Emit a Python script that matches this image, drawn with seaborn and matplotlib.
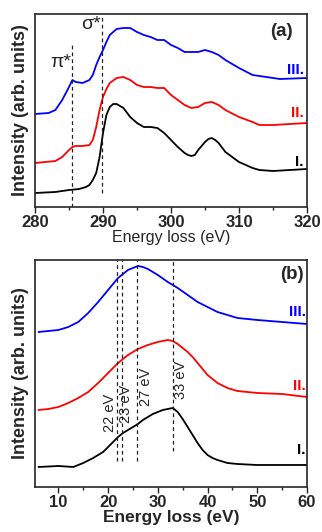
import numpy as np
import pandas as pd
import seaborn as sns
import matplotlib
matplotlib.use("Agg")
import matplotlib.pyplot as plt
from matplotlib.ticker import MultipleLocator

# ---- panel (a): C K-edge, energy loss (eV) and offset intensities ----
a_x_I = [280, 283, 285, 286.5, 287.5, 288, 288.5, 289, 289.5, 290, 290.5, 291, 291.5, 292, 292.5, 293, 294, 295, 296, 297, 298,
         299, 300, 301, 302, 302.5, 303, 303.5, 304, 305, 305.5, 306, 306.5, 307, 308, 309, 310, 311, 312, 313, 315, 320]
a_y_I = [14, 15, 17, 18, 20, 22, 27, 34, 50, 74, 92, 100, 103, 103, 101, 99, 90, 84, 80, 80, 79,
         74, 67, 60, 54, 52, 51, 52, 57, 65, 68, 69, 67, 64, 55, 50, 45, 42, 39, 37, 36, 38]

a_x_II = [280, 283, 284, 285, 285.5, 286, 287, 288, 288.5, 289, 289.5, 290, 290.5, 291, 292, 293, 294, 295,
          296, 297, 298, 299, 300, 301, 302, 303, 304, 305, 306, 307, 308, 310, 312, 313, 315, 320]
a_y_II = [44, 46, 50, 57, 60, 61, 61, 62, 67, 80, 97, 110, 118, 124, 129, 130, 127, 122,
          120, 120, 119, 119, 112, 107, 102, 99, 100, 104, 105, 102, 97, 90, 85, 82, 82, 84]

a_x_III = [280, 282, 283, 284, 285, 285.5, 286, 287, 288, 288.5, 289, 289.5, 290, 290.5, 291, 292, 293, 294, 295,
           296, 297, 298, 299, 300, 301, 302, 303, 304, 305, 306, 307, 308, 310, 312, 314, 316, 320]
a_y_III = [93, 94, 97, 107, 120, 127, 125, 124, 127, 132, 142, 150, 157, 165, 172, 178, 179, 179, 175,
           172, 170, 167, 167, 162, 159, 155, 155, 155, 157, 155, 152, 147, 139, 132, 130, 128, 129]

# ---- panel (b): low-loss region ----
b_x_I = [6, 10, 13, 15, 17, 19, 20, 21, 22, 23, 24, 25, 26, 27, 28, 29, 30, 31, 32, 33,
         34, 35, 36, 37, 38, 39, 40, 41, 42, 44, 46, 50, 60]
b_y_I = [20, 21, 20, 24, 29, 35, 40, 45, 50, 54, 57, 60, 63, 67, 70, 73, 75, 77, 78, 79,
         75, 68, 60, 52, 44, 37, 32, 29, 27, 24, 23, 22, 22]

b_x_II = [6, 8, 10, 12, 14, 16, 18, 20, 22, 24, 26, 28, 30, 32, 33, 34, 35, 36, 37, 38, 39, 40, 42,
          44, 46, 48, 50, 55, 60]
b_y_II = [77, 78, 80, 84, 89, 95, 104, 114, 124, 132, 138, 142, 145, 147, 146, 143, 139, 135, 130, 124, 118, 112, 104,
          99, 96, 95, 94, 93, 90]

b_x_III = [6, 8, 10, 12, 14, 16, 18, 20, 22, 24, 25, 26, 27, 28, 30, 32, 33, 34, 36, 38, 40, 42,
           44, 46, 48, 50, 55, 60]
b_y_III = [155, 156, 157, 160, 165, 174, 185, 197, 209, 217, 219, 221, 220, 218, 212, 205, 202, 199, 192, 185, 180, 175,
           172, 169, 168, 167, 165, 163]

b_peaks = [21.7, 22.7, 25.8, 33.0]
b_peak_labels = ["22 eV", "23 eV", "27 eV", "33 eV"]

colors = {"I.": "black", "II.": "#ff0000", "III.": "#0000ff"}

sns.set_style("ticks")
plt.rcParams["font.family"] = ["Liberation Sans", "DejaVu Sans"]

fig = plt.figure(figsize=(3.22, 5.32), dpi=100)
ax1 = fig.add_axes([0.1087, 0.6109, 0.8447, 0.3628])
ax2 = fig.add_axes([0.1087, 0.0846, 0.8447, 0.4267])

df_a = pd.concat([
    pd.DataFrame({"E": a_x_I, "I": a_y_I, "s": "I."}),
    pd.DataFrame({"E": a_x_II, "I": a_y_II, "s": "II."}),
    pd.DataFrame({"E": a_x_III, "I": a_y_III, "s": "III."}),
])
df_b = pd.concat([
    pd.DataFrame({"E": b_x_I, "I": b_y_I, "s": "I."}),
    pd.DataFrame({"E": b_x_II, "I": b_y_II, "s": "II."}),
    pd.DataFrame({"E": b_x_III, "I": b_y_III, "s": "III."}),
])

sns.lineplot(data=df_a, x="E", y="I", hue="s", palette=colors, ax=ax1, lw=1.3, legend=False, sort=True)
sns.lineplot(data=df_b, x="E", y="I", hue="s", palette=colors, ax=ax2, lw=1.3, legend=False, sort=True)

# dashed markers
ax1.plot([285.5, 285.5], [0, 162], ls=(0, (3, 2.5)), color="#222222", lw=0.9)
ax1.plot([289.9, 289.9], [14, 193], ls=(0, (3, 2.5)), color="#222222", lw=0.9)
ax1.text(283.8, 144, "π*", fontsize=14, ha="center", va="center")
ax1.text(288.2, 182, "σ*", fontsize=14, ha="center", va="center")
ax1.text(316.3, 175, "(a)", fontsize=13.5, fontweight="bold", ha="center", va="center")
ax1.text(319.5, 137, "III.", color=colors["III."], fontsize=11, fontweight="bold", ha="right", va="center")
ax1.text(319.5, 94, "II.", color=colors["II."], fontsize=11, fontweight="bold", ha="right", va="center")
ax1.text(319.5, 45, "I.", color=colors["I."], fontsize=11, fontweight="bold", ha="right", va="center")

ymins = [26, 26, 26, 36]
label_x = [20.3, 23.7, 27.7, 34.7]
label_y = [74, 83, 100, 107]
for p, lab, ym, lx, ly in zip(b_peaks, b_peak_labels, ymins, label_x, label_y):
    ax2.plot([p, p], [ym, 227], ls=(0, (3, 2.5)), color="#222222", lw=0.9)
    ax2.text(lx, ly, lab, rotation=90, fontsize=10.5, ha="center", va="center")
ax2.text(57, 212, "(b)", fontsize=13.5, fontweight="bold", ha="center", va="center")
ax2.text(59.7, 175, "III.", color=colors["III."], fontsize=11, fontweight="bold", ha="right", va="center")
ax2.text(59.7, 101, "II.", color=colors["II."], fontsize=11, fontweight="bold", ha="right", va="center")
ax2.text(59.7, 37, "I.", color=colors["I."], fontsize=11, fontweight="bold", ha="right", va="center")

ax1.set_xlim(280, 320)
ax1.set_ylim(0, 193)
ax2.set_xlim(5.3, 60)
ax2.set_ylim(0, 227)

ax1.xaxis.set_major_locator(MultipleLocator(10))
ax1.xaxis.set_minor_locator(MultipleLocator(5))
ax2.xaxis.set_major_locator(MultipleLocator(10))
ax2.xaxis.set_minor_locator(MultipleLocator(5))

for ax in (ax1, ax2):
    ax.set_yticks([])
    ax.tick_params(axis="x", which="major", length=4, width=1, labelsize=12, pad=2)
    ax.tick_params(axis="x", which="minor", length=2.5, width=1)
    for lab in ax.get_xticklabels():
        lab.set_fontweight("bold")
    for sp in ax.spines.values():
        sp.set_visible(True)
        sp.set_linewidth(1.2)
    ax.set_ylabel("Intensity (arb. units)", fontsize=13, fontweight="bold", labelpad=4)

ax1.set_xlabel("Energy loss (eV)", fontsize=11.5, labelpad=0)
ax2.set_xlabel("Energy loss (eV)", fontsize=12.5, fontweight="bold", labelpad=0)

fig.savefig("out.png", dpi=100)
